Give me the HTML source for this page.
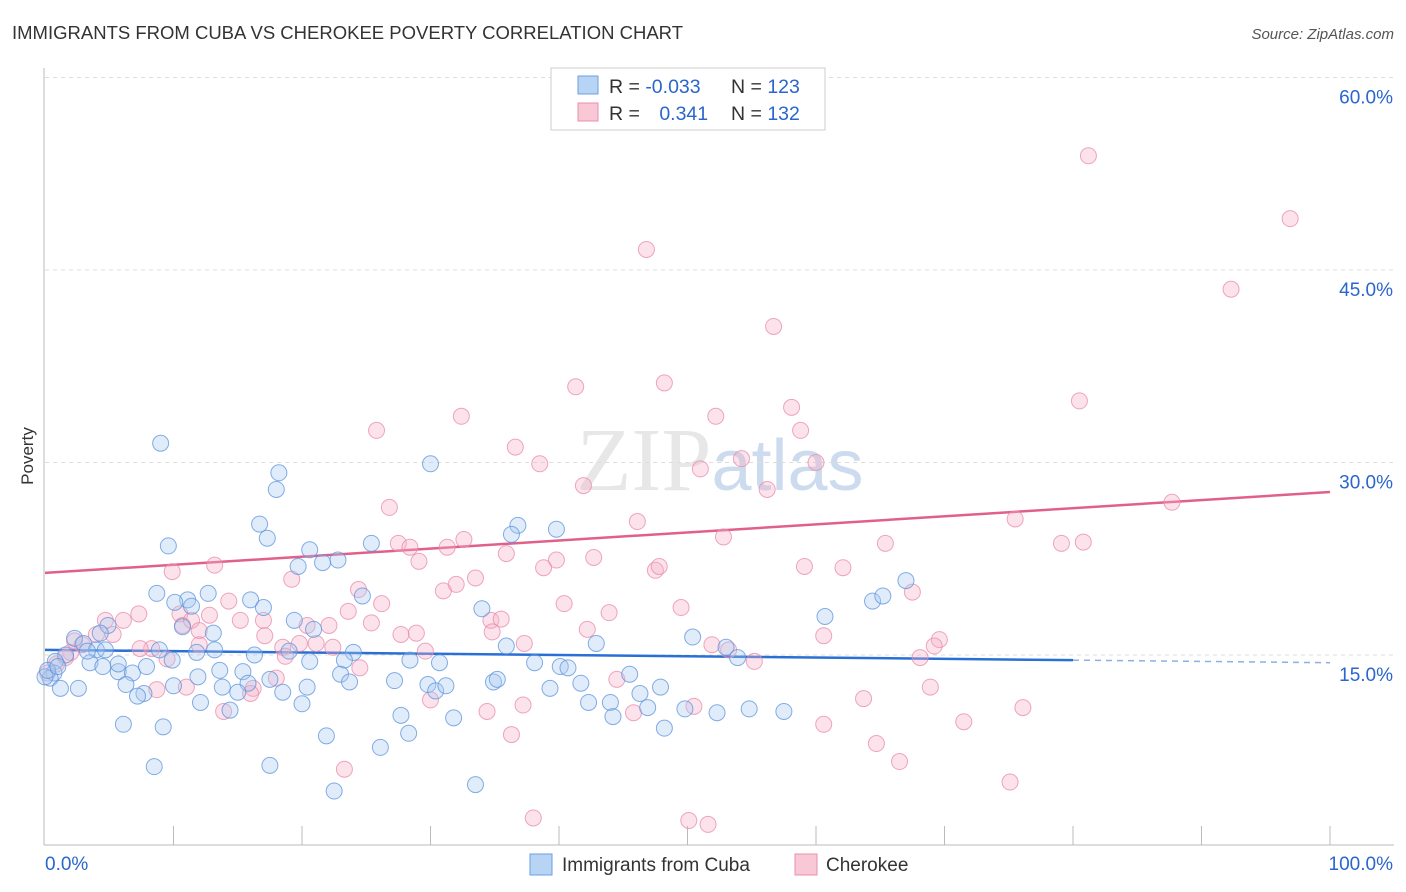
<!DOCTYPE html>
<html><head><meta charset="utf-8"><style>
body{margin:0;background:#fff;font-family:"Liberation Sans",sans-serif}
svg{display:block}
</style></head><body>
<svg id="chart" width="1406" height="892" viewBox="0 0 1406 892">
<text x="12" y="39" font-size="18.5" fill="#333" textLength="671" lengthAdjust="spacingAndGlyphs">IMMIGRANTS FROM CUBA VS CHEROKEE POVERTY CORRELATION CHART</text>
<text x="1394" y="39" font-size="15" fill="#555" text-anchor="end" font-style="italic">Source: ZipAtlas.com</text>
<text x="720" y="490" font-size="90" fill="#ddd" text-anchor="middle" font-family="Liberation Serif" opacity="0.7">ZIP<tspan fill="#b8cde8" font-family="Liberation Sans" font-size="72">atlas</tspan></text>
<text transform="translate(33,456) rotate(-90)" font-size="17" fill="#333" text-anchor="middle">Poverty</text>
<g id="grid"></g><g id="axes"></g><g id="trend"></g><g id="pts"></g>
<g>
<rect x="551" y="68" width="274" height="62" fill="#fff" stroke="#ccc"/>
<rect x="578" y="76" width="20" height="18" fill="#b8d4f5" stroke="#6a9fe0"/>
<rect x="578" y="103" width="20" height="18" fill="#f9c8d6" stroke="#e890a8"/>
<text x="609" y="93" font-size="19.5" fill="#333">R = <tspan fill="#2a66cc">-0.033</tspan></text>
<text x="731" y="93" font-size="19.5" fill="#333">N = <tspan fill="#2a66cc">123</tspan></text>
<text x="609" y="120" font-size="19.5" fill="#333">R = <tspan fill="#2a66cc" dx="14">0.341</tspan></text>
<text x="731" y="120" font-size="19.5" fill="#333">N = <tspan fill="#2a66cc">132</tspan></text>
</g>
<g>
<rect x="530" y="854" width="22" height="21" fill="#b8d4f5" stroke="#6a9fe0"/>
<text x="562" y="871" font-size="19" fill="#333">Immigrants from Cuba</text>
<rect x="795" y="854" width="22" height="21" fill="#f9c8d6" stroke="#e890a8"/>
<text x="826" y="871" font-size="19" fill="#333">Cherokee</text>
</g>
</svg>
<script>
const yTicks=[15,30,45,60];
const xTickLabels=["0.0%","100.0%"];
const blueX=[9.0,18.2,18.0,30.0,16.7,17.3,9.6,36.8,36.3,39.8,25.4,20.6,22.8,19.7,21.6,8.7,12.7,11.1,11.4,10.1,16.0,17.0,24.7,19.4,20.9,34.0,60.7,64.4,65.2,67.0,10.7,13.1,4.9,4.3,2.3,3.0,4.0,1.6,0.8,3.5,4.5,5.7,6.8,7.9,9.9,11.8,13.6,15.4,19.0,20.6,24.0,23.3,28.4,30.7,35.9,38.1,40.1,40.7,42.9,50.4,53.0,53.9,0.7,0.4,1.2,2.6,6.3,7.7,7.2,10.0,11.9,13.8,15.8,15.0,17.5,18.5,20.4,23.0,23.7,27.2,29.8,30.4,31.2,34.9,35.2,39.3,41.7,45.5,47.9,44.0,46.3,42.3,46.9,49.8,52.3,54.8,57.5,48.2,44.2,31.8,27.7,28.3,26.1,21.9,20.0,14.4,12.1,6.1,9.2,8.5,17.5,22.5,33.5,4.7,5.7,8.9,0,0.2,1.0,3.3,13.2,16.3];
const blueY=[31.5,29.2,27.9,29.9,25.2,24.1,23.5,25.1,24.4,24.8,23.7,23.2,22.4,21.9,22.2,19.8,19.8,19.3,18.8,19.1,19.3,18.7,19.6,17.7,17.0,18.6,18.0,19.2,19.6,20.8,17.2,16.7,17.3,16.7,16.3,15.9,15.4,15.0,14.5,14.4,14.1,13.7,13.6,14.1,14.6,15.2,13.8,13.7,15.3,14.5,15.2,14.6,14.6,14.4,15.7,14.4,14.1,14.0,15.9,16.4,15.6,14.8,13.6,13.2,12.4,12.4,12.7,12.0,11.8,12.6,13.3,12.5,12.8,12.1,13.1,12.1,12.5,13.5,12.9,13.0,12.7,12.2,12.6,12.9,13.1,12.4,12.8,13.5,12.5,11.3,12.0,11.3,10.9,10.8,10.5,10.8,10.6,9.3,10.2,10.1,10.3,8.9,7.8,8.7,11.2,10.7,11.3,9.6,9.4,6.3,6.4,4.4,4.9,15.4,14.3,15.4,13.3,13.8,14.1,15.3,15.4,15.0];
const pinkX=[81.2,96.9,46.8,92.3,56.7,41.3,48.2,80.5,52.2,58.1,32.4,58.8,25.8,36.6,38.5,54.2,51.0,60.0,56.2,41.9,87.7,26.8,46.1,75.5,52.8,79.1,80.8,65.4,27.5,28.4,31.3,32.6,35.9,42.7,39.8,29.1,38.8,47.5,47.8,59.1,62.1,13.2,9.9,19.2,33.5,32.0,31.0,24.4,67.5,40.4,43.9,49.5,26.2,23.6,14.3,12.8,10.5,10.7,11.4,12.0,15.2,17.0,20.4,22.1,25.4,27.7,28.9,34.7,35.5,34.8,42.2,37.3,51.9,53.2,55.2,60.6,69.6,69.2,68.1,4.7,6.1,7.3,4.0,2.3,2.9,2.0,1.6,0.9,0.2,5.3,8.3,9.5,12.0,17.1,18.5,19.8,21.1,22.4,18.7,11.0,8.7,16.2,16.0,13.9,18.0,30.0,24.5,44.5,50.5,63.7,68.9,34.4,36.3,37.2,45.8,60.6,64.7,66.5,71.5,76.1,75.1,23.3,38.0,50.1,51.6,29.6,7.4];
const pinkY=[53.9,49.0,46.6,43.5,40.6,35.9,36.2,34.8,33.6,34.3,33.6,32.5,32.5,31.2,29.9,30.3,29.5,30.0,27.9,28.2,26.9,26.5,25.4,25.6,24.2,23.7,23.8,23.7,23.7,23.4,23.4,24.0,22.9,22.6,22.4,22.3,21.8,21.6,21.9,21.9,21.8,22.0,21.5,20.9,21.0,20.5,20.0,20.1,19.9,19.0,18.3,18.7,19.0,18.4,19.2,18.1,18.2,17.3,17.7,16.9,17.7,17.7,17.3,17.3,17.5,16.6,16.7,17.7,17.8,16.8,17.0,15.9,15.8,15.4,14.5,16.5,16.2,15.7,14.8,17.7,17.7,18.2,16.6,16.1,15.8,15.2,14.8,14.3,13.6,16.6,15.5,14.7,15.8,16.5,15.6,15.9,15.9,15.6,14.9,12.5,12.3,12.4,12.0,10.6,13.2,11.5,14.0,13.1,11.0,11.6,12.5,10.6,8.8,11.1,10.5,9.6,8.1,6.7,9.8,10.9,5.1,6.1,2.3,2.1,1.8,15.3,15.5];
const trendBlue=[15.4,14.4];
const trendPink=[21.4,27.7];
const X0=45,X1=1330,Y0=847.5,YS=192.5/15;
const sx=v=>X0+(X1-X0)*v/100, sy=v=>Y0-v*YS;
const NS="http://www.w3.org/2000/svg";
function mk(t,p,a){const e=document.createElementNS(NS,t);for(const k in a)e.setAttribute(k,a[k]);p.appendChild(e);return e;}
const grid=document.getElementById('grid'),axes=document.getElementById('axes'),trend=document.getElementById('trend'),pts=document.getElementById('pts');
yTicks.forEach(t=>{
 const l=mk('line',grid,{x1:45,x2:1394,y1:sy(t),y2:sy(t),stroke:'#ddd','stroke-dasharray':'4,4'});
 
 
 const tx=mk('text',grid,{x:1393,y:sy(t)+26,'font-size':19,fill:'#2a66cc','text-anchor':'end'});
 tx.textContent=t.toFixed(1)+'%';
 
 
});
const ax=mk('line',axes,{x1:44,x2:44,y1:68,y2:845,stroke:'#bbb'});


const bx=mk('line',axes,{x1:44,x2:1394,y1:845,y2:845,stroke:'#bbb'});


for(let i=1;i<=10;i++){
 const tk=mk('line',axes,{x1:sx(i*10),x2:sx(i*10),y1:826,y2:845,stroke:'#bbb'});
 
 
}
const xl0=mk('text',axes,{x:45,y:870,'font-size':19,fill:'#2a66cc'});xl0.textContent=xTickLabels[0];


const xl1=mk('text',axes,{x:1393,y:870,'font-size':19,fill:'#2a66cc','text-anchor':'end'});xl1.textContent=xTickLabels[1];


function dots(xs,ys,fill,stroke,name){xs.forEach((x,i)=>{
 const c=mk('circle',pts,{cx:sx(x),cy:sy(ys[i]),r:8,fill:fill,'fill-opacity':0.35,stroke:stroke,'stroke-opacity':0.75,'stroke-width':1});
 
 
});}
dots(pinkX,pinkY,'#f5b0c5','#e88aa8','cherokee-point');
dots(blueX,blueY,'#a8c8f0','#5b93dc','cuba-point');
const bm=trendBlue[0]+(trendBlue[1]-trendBlue[0])*0.8;
const t1=mk('line',trend,{x1:sx(0),y1:sy(trendBlue[0]),x2:sx(80),y2:sy(bm),stroke:'#2a6fd6','stroke-width':2.5});


const t2=mk('line',trend,{x1:sx(80),y1:sy(bm),x2:sx(100),y2:sy(trendBlue[1]),stroke:'#8ab0e6','stroke-width':1.5,'stroke-dasharray':'6,5'});


const t3=mk('line',trend,{x1:sx(0),y1:sy(trendPink[0]),x2:sx(100),y2:sy(trendPink[1]),stroke:'#e0608a','stroke-width':2.5});


</script>
</body></html>
